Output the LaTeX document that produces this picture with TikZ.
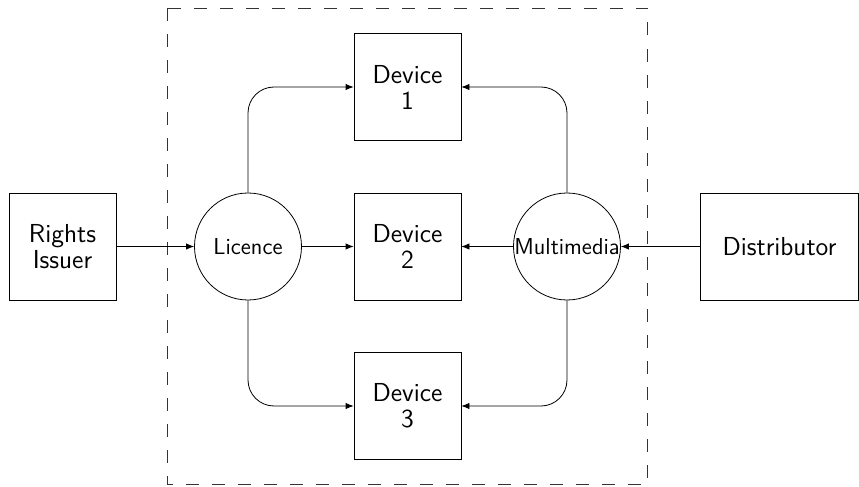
\documentclass[tikz,border=0pt]{standalone}
\usetikzlibrary{positioning,calc,arrows.meta}

\begin{document}
\begin{tikzpicture}[x=0.5pt,y=-0.5pt,
    box/.style={draw,minimum width=53.5pt,minimum height=53.5pt,align=center,
      font=\sffamily\fontsize{13}{13}\selectfont,inner sep=1pt},
    blob/.style={draw,circle,minimum size=53.5pt,inner sep=0pt,
      font=\sffamily\fontsize{11.5}{13}\selectfont},
    link/.style={-{Latex[length=4pt,width=3.2pt]},rounded corners=13pt}]
    \useasboundingbox (0,0) rectangle (859,487);

    \draw[dash pattern=on 6.5pt off 6.5pt,color=black!80] (167.5,8) rectangle (647,484);

    \node[box] (issuer) at (62.5,246.5) {Rights\\Issuer};
    \node[blob] (licence) at (248,246.5) {Licence};
    \node[box] (dev1) at (407.5,87) {Device\\1};
    \node[box] (dev2) at (407.5,246.5) {Device\\2};
    \node[box] (dev3) at (407.5,406) {Device\\3};
    \node[blob] (media) at (567,246.5) {Multimedia};
    \node[box,minimum width=79pt] (distrib) at (779.5,246.5) {Distributor};

    \draw[link] (issuer) -- (licence);
    \draw[link] (licence) -- (dev2);
    \draw[link] (media) -- (dev2);
    \draw[link] (distrib) -- (media);
    \draw[link] (licence.north) |- (dev1.west);
    \draw[link] (media.north) |- (dev1.east);
    \draw[link] (licence.south) |- (dev3.west);
    \draw[link] (media.south) |- (dev3.east);
  \end{tikzpicture}
\end{document}
